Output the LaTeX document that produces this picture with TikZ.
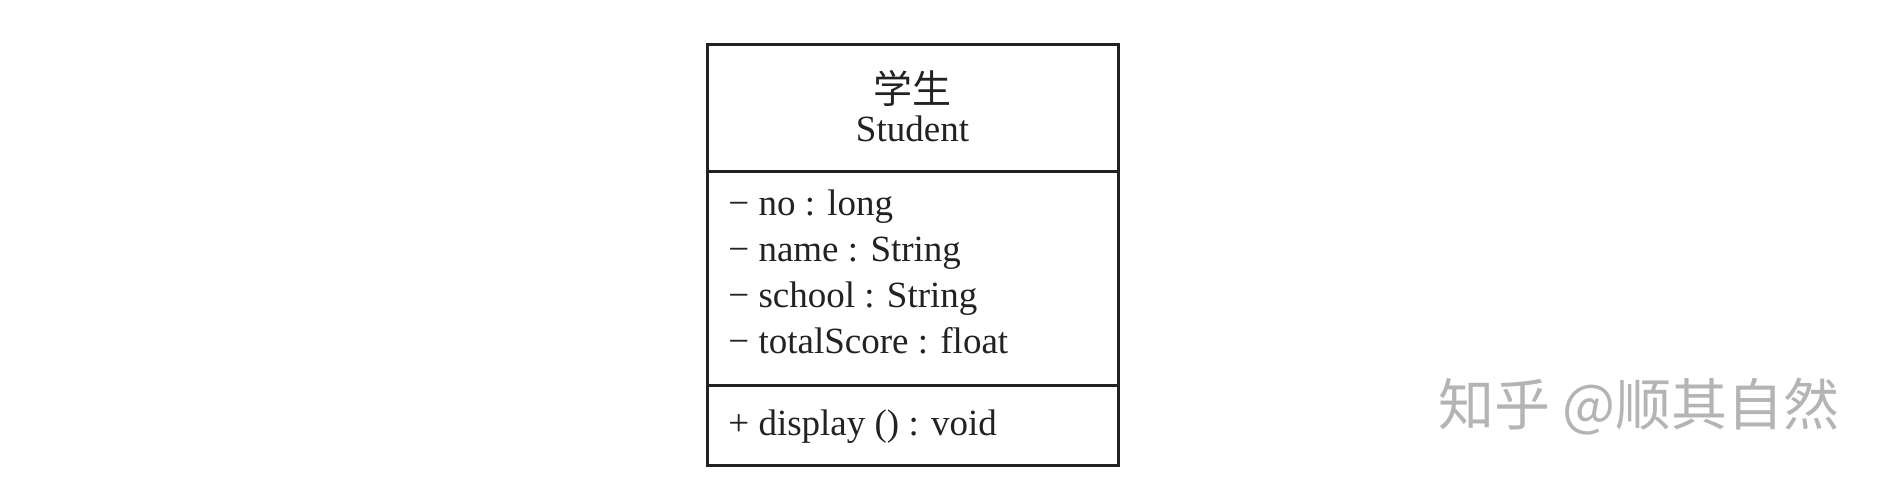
\documentclass[tikz,border=0pt]{standalone}
\usepackage{fontspec}
\setmainfont{Liberation Serif}
\newfontfamily\cjk{Noto Sans CJK SC}
\usepackage{tikz}
\usetikzlibrary{positioning}
\definecolor{ink}{HTML}{222222}
\definecolor{mark}{HTML}{B4B4B4}
\tikzset{>=latex}
\tikzstyle{part} = [draw = ink, line width = 1.5pt, rectangle, minimum width = 205.5pt, inner sep = 0]
\tikzstyle{item} = [draw=none, inner sep = 0, anchor = base west, text = ink, font = \fontsize{18.5}{22}\selectfont]

\begin{document}
\begin{tikzpicture}[x = 1pt, y = 1pt]
\useasboundingbox (0, 0) rectangle (945, 242);
%\node [rectangle, inner sep = 1]  (U) at (0, 0) {};
\node [part, minimum height = 63.5pt] (H) at (456.25, 188.25) {};
\node [part, minimum height = 107pt]  (F) at (456.25, 103) {};
\node [part, minimum height = 40pt]   (M) at (456.25, 29.5) {};
\node [draw=none, inner sep = 0, text = ink, font = \cjk\fontsize{19.5}{22}\selectfont] (C) at (456.25, 197.75) {学生};
\node [item, anchor = base] (E) at (456.25, 171.5) {Student};
\node [item] (A) at (364, 134.5) {− no : long};
\node [item] (B) at (364, 111.5) {− name : String};
\node [item] (S) at (364, 88.5) {− school : String};
\node [item] (T) at (364, 65.5) {− totalScore : float};
\node [item] (D) at (364, 24.5) {+ display () : void};
\node [draw=none, inner sep = 0, text = mark, font = \cjk\fontsize{28}{30}\selectfont] (W) at (819.5, 38.5) {知乎 @顺其自然};
\end{tikzpicture}
\end{document}
